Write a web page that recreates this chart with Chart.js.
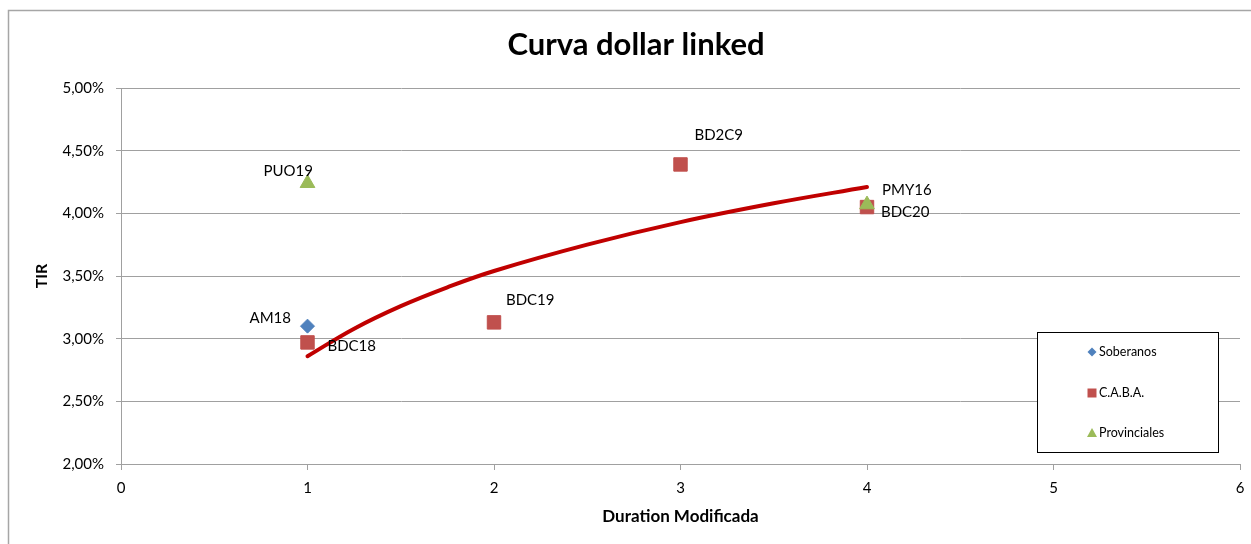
<!DOCTYPE html>
<html>
<head>
<meta charset="utf-8">
<script src="https://cdn.jsdelivr.net/npm/chart.js@4/dist/chart.umd.min.js"></script>
<style>
  html, body { margin: 0; padding: 0; background: #ffffff; }
  #wrap { width: 1251px; height: 544px; position: relative; }
</style>
</head>
<body>
<div id="wrap"><canvas id="c" width="1251" height="544"></canvas></div>
<script>
// ---- Data ----
const chartTitle = 'Curva dollar linked';
const xAxisTitle = 'Duration Modificada';
const yAxisTitle = 'TIR';
const seriesNames = ['Soberanos', 'C.A.B.A.', 'Provinciales'];

const soberanosX = [1];
const soberanosY = [3.10];
const soberanosLabels = ['AM18'];

const cabaX = [1, 2, 3, 4];
const cabaY = [2.97, 3.13, 4.39, 4.05];
const cabaLabels = ['BDC18', 'BDC19', 'BD2C9', 'BDC20'];

const provincialesX = [1, 4];
const provincialesY = [4.24, 4.07];
const provincialesLabels = ['PUO19', 'PMY16'];

// trend curve
const trendX = [1, 1.25, 1.5, 1.75, 2, 2.5, 3, 3.5, 4];
const trendY = [2.86, 3.08, 3.26, 3.41, 3.54, 3.75, 3.93, 4.08, 4.21];

const xTickValues = [0, 1, 2, 3, 4, 5, 6];
const yTickValues = [2.0, 2.5, 3.0, 3.5, 4.0, 4.5, 5.0];

// ---- Styles ----
const FONT = 'Lato, "Open Sans", "Noto Sans", sans-serif';
const colors = { sob: '#4F81BD', caba: '#C0504D', prov: '#9BBB59', trend: '#C00000', grid: '#a0a0a0' };
// label placement relative to its point: dx = left edge of text, dy = vertical center
const labelPlacement = {
  'PUO19': { dx: -44, dy: -12 },
  'AM18':  { dx: -58, dy: -8 },
  'BDC18': { dx: 20,  dy: 4 },
  'BDC19': { dx: 12,  dy: -22 },
  'BD2C9': { dx: 14,  dy: -29 },
  'PMY16': { dx: 15,  dy: -14 },
  'BDC20': { dx: 14,  dy: 5 }
};

function pts(xs, ys) { return xs.map((x, i) => ({ x: x, y: ys[i] })); }

const frame = {
  id: 'frame',
  beforeDraw(chart) {
    const ctx = chart.ctx;
    ctx.save();
    ctx.fillStyle = '#ffffff';
    ctx.fillRect(0, 0, chart.width, chart.height);
    ctx.strokeStyle = '#a6a6a6';
    ctx.lineWidth = 1.5;
    ctx.beginPath();
    ctx.moveTo(8.5, chart.height);
    ctx.lineTo(8.5, 10.5);
    ctx.lineTo(chart.width, 10.5);
    ctx.stroke();
    ctx.restore();
  }
};

const pointLabels = {
  id: 'pointLabels',
  afterDatasetsDraw(chart) {
    const ctx = chart.ctx;
    ctx.save();
    ctx.font = '15px ' + FONT;
    ctx.fillStyle = '#000000';
    ctx.textAlign = 'left';
    ctx.textBaseline = 'middle';
    chart.data.datasets.forEach((ds, di) => {
      if (!ds.pointNames) return;
      const meta = chart.getDatasetMeta(di);
      meta.data.forEach((el, i) => {
        const name = ds.pointNames[i];
        const p = labelPlacement[name] || { dx: 10, dy: -12 };
        ctx.fillText(name, el.x + p.dx, el.y + p.dy);
      });
    });
    ctx.restore();
  }
};

const boxLegend = {
  id: 'boxLegend',
  afterDraw(chart) {
    const ctx = chart.ctx;
    ctx.save();
    ctx.fillStyle = '#ffffff';
    ctx.fillRect(1037, 332, 181, 120);
    ctx.strokeStyle = '#000000';
    ctx.lineWidth = 1;
    ctx.strokeRect(1037.5, 332.5, 181, 120);
    const rows = [352, 393, 433];
    const mx = 1092;
    ctx.font = '12.5px ' + FONT;
    ctx.textBaseline = 'middle';
    ctx.textAlign = 'left';
    seriesNames.forEach((name, i) => {
      const ds = chart.data.datasets[i];
      const y = rows[i];
      ctx.fillStyle = ds.backgroundColor;
      ctx.beginPath();
      if (ds.pointStyle === 'rectRot') {
        ctx.moveTo(mx, y - 4.5); ctx.lineTo(mx + 4.5, y); ctx.lineTo(mx, y + 4.5); ctx.lineTo(mx - 4.5, y);
      } else if (ds.pointStyle === 'rect') {
        ctx.rect(mx - 4.5, y - 4.5, 9, 9);
      } else {
        ctx.moveTo(mx, y - 5); ctx.lineTo(mx + 5, y + 4); ctx.lineTo(mx - 5, y + 4);
      }
      ctx.closePath();
      ctx.fill();
      ctx.fillStyle = '#000000';
      ctx.fillText(name, 1099, y);
    });
    ctx.restore();
  }
};

Chart.defaults.font.family = FONT;
Chart.defaults.color = '#000000';

new Chart(document.getElementById('c'), {
  type: 'scatter',
  data: {
    datasets: [
      { label: seriesNames[0], data: pts(soberanosX, soberanosY), pointNames: soberanosLabels,
        pointStyle: 'rectRot', pointRadius: 7, backgroundColor: colors.sob, borderColor: colors.sob, borderWidth: 1, order: 3 },
      { label: seriesNames[1], data: pts(cabaX, cabaY), pointNames: cabaLabels,
        pointStyle: 'rect', pointRadius: 9.5, backgroundColor: colors.caba, borderColor: colors.caba, borderWidth: 1, order: 2 },
      { label: seriesNames[2], data: pts(provincialesX, provincialesY), pointNames: provincialesLabels,
        pointStyle: 'triangle', pointRadius: 8.5, backgroundColor: colors.prov, borderColor: colors.prov, borderWidth: 1, order: 1 },
      { label: 'Tendencia', data: pts(trendX, trendY), showLine: true, pointRadius: 0,
        borderColor: colors.trend, backgroundColor: colors.trend, borderWidth: 4, tension: 0.4,
        borderCapStyle: 'round', order: 4 }
    ]
  },
  options: {
    responsive: false,
    animation: false,
    events: [],
    layout: { padding: { left: 28, right: 7, top: 0, bottom: 13 } },
    plugins: {
      legend: { display: false },
      tooltip: { enabled: false },
      title: {
        display: true, text: chartTitle, color: '#000000',
        font: { size: 31, weight: 'bold', family: FONT },
        padding: { top: 26.5, bottom: 24.3 }
      }
    },
    scales: {
      x: {
        type: 'linear', min: 0, max: 6,
        afterFit(scale) { scale.height = 67; scale.paddingRight = 11; },
        afterBuildTicks(scale) { scale.ticks = xTickValues.map(v => ({ value: v })); },
        ticks: { font: { size: 15 }, padding: 9, color: '#000000', callback: v => String(v) },
        grid: { drawOnChartArea: false, drawTicks: true, tickLength: 6, color: colors.grid },
        border: { display: true, color: colors.grid, width: 1 },
        title: { display: true, text: xAxisTitle, font: { size: 17, weight: 'bold' }, color: '#000000', padding: { top: 4, bottom: 4 } }
      },
      y: {
        type: 'linear', min: 2, max: 5,
        afterFit(scale) { scale.width = 93; },
        afterBuildTicks(scale) { scale.ticks = yTickValues.map(v => ({ value: v })); },
        ticks: { font: { size: 15 }, padding: 12, color: '#000000',
          callback: v => v.toFixed(2).replace('.', ',') + '%' },
        grid: { drawOnChartArea: true, drawTicks: true, tickLength: 5, color: colors.grid },
        border: { display: true, color: colors.grid, width: 1 },
        title: { display: true, text: yAxisTitle, font: { size: 16, weight: 'bold' }, color: '#000000', padding: { top: 4, bottom: 4 } }
      }
    }
  },
  plugins: [frame, pointLabels, boxLegend]
});
</script>
</body>
</html>
